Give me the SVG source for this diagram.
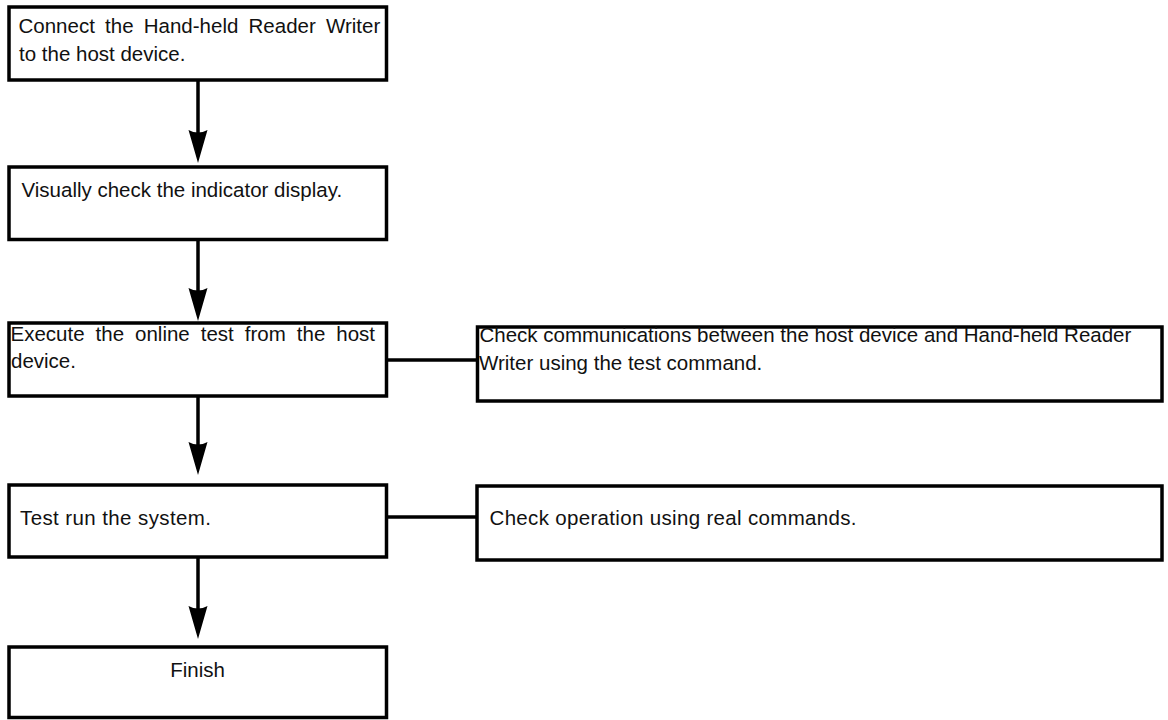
<svg xmlns="http://www.w3.org/2000/svg" width="1168" height="720" viewBox="0 0 1168 720">
<style>
.box{fill:#fff;stroke:#000;stroke-width:3.5}
.t{font-family:"Liberation Sans",Arial,Helvetica,sans-serif;font-size:20.5px;fill:#111}
.ln{stroke:#000;stroke-width:3.5;fill:none}
.hd{fill:#000;stroke:none}
</style>
<rect width="1168" height="720" fill="#fff"/>
<g id="connectors">
<line class="ln" x1="198" y1="80" x2="198" y2="135"/>
<path class="hd" d="M198,163 L188.5,130 Q198,135 207.5,130 Z"/>
<line class="ln" x1="198" y1="239" x2="198" y2="293"/>
<path class="hd" d="M198,321 L188.5,288 Q198,293 207.5,288 Z"/>
<line class="ln" x1="198" y1="396" x2="198" y2="447"/>
<path class="hd" d="M198,475 L188.5,442 Q198,447 207.5,442 Z"/>
<line class="ln" x1="198" y1="557" x2="198" y2="611"/>
<path class="hd" d="M198,639 L188.5,606 Q198,611 207.5,606 Z"/>
<line class="ln" x1="386.5" y1="360" x2="477.5" y2="360"/>
<line class="ln" x1="386.5" y1="517" x2="477" y2="517"/>
</g>
<g id="node-connect">
<rect class="box" x="9" y="7" width="377.5" height="73"/>
<text class="t" x="18.5" y="32.5" word-spacing="4.5">Connect the Hand-held Reader Writer</text>
<text class="t" x="19" y="61">to the host device.</text>
</g>
<g id="node-check-indicator">
<rect class="box" x="9" y="167" width="377.5" height="72.5"/>
<text class="t" x="21.5" y="196.5">Visually check the indicator display.</text>
</g>
<g id="node-online-test">
<rect class="box" x="9" y="323" width="377.5" height="73"/>
<text class="t" x="10.5" y="340.5" word-spacing="5.3">Execute the online test from the host</text>
<text class="t" x="11" y="368.3">device.</text>
</g>
<g id="node-check-comms">
<rect class="box" x="477.5" y="327" width="684.5" height="74"/>
<text class="t" x="479.5" y="342.3">Check communications between the host device and Hand-held Reader</text>
<text class="t" x="479" y="370">Writer using the test command.</text>
</g>
<g id="node-test-run">
<rect class="box" x="9" y="485" width="377.5" height="72"/>
<text class="t" x="20" y="524.5" textLength="191">Test run the system.</text>
</g>
<g id="node-check-operation">
<rect class="box" x="477" y="486" width="685" height="74"/>
<text class="t" x="489.5" y="525" textLength="367">Check operation using real commands.</text>
</g>
<g id="node-finish">
<rect class="box" x="9" y="647" width="377.5" height="70.5"/>
<text class="t" x="197.5" y="676.7" text-anchor="middle">Finish</text>
</g>
</svg>
